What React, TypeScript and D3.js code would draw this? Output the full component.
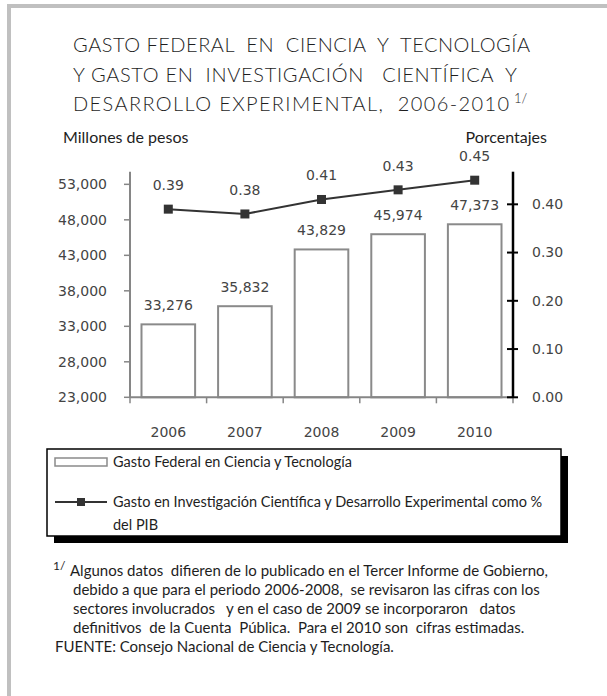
import React from "react";
import * as d3 from "d3";

const categories = ["2006", "2007", "2008", "2009", "2010"];
const gastoFederal = [33276, 35832, 43829, 45974, 47373];
const gideVals = [0.39, 0.38, 0.41, 0.43, 0.45];
const leftTicks = [23000, 28000, 33000, 38000, 43000, 48000, 53000];
const rightTicks = [0, 0.1, 0.2, 0.3, 0.4];

const titleLines = [
  "GASTO FEDERAL  EN  CIENCIA  Y  TECNOLOGÍA",
  "Y GASTO EN  INVESTIGACIÓN   CIENTÍFICA  Y",
  "DESARROLLO EXPERIMENTAL,  2006-2010",
];
const legendLabels = [
  "Gasto Federal en Ciencia y Tecnología",
  "Gasto en Investigación Científica y Desarrollo Experimental como %",
  "del PIB",
];
const footnoteLines = [
  "Algunos datos  difieren de lo publicado en el Tercer Informe de Gobierno,",
  "debido a que para el periodo 2006-2008,  se revisaron las cifras con los",
  "sectores involucrados   y en el caso de 2009 se incorporaron   datos",
  "definitivos  de la Cuenta  Pública.  Para el 2010 son  cifras estimadas.",
];
const sourceLine = "FUENTE: Consejo Nacional de Ciencia y Tecnología.";

const W = 607;
const H = 696;
const TXT = "Lato, 'Open Sans', sans-serif";
const NUM = "'DejaVu Sans', Verdana, sans-serif";

export default function App() {
  const left = 130;
  const right = 513;
  const bottom = 397.3;
  const top = 171.7;

  const x = d3
    .scaleBand<string>()
    .domain(categories)
    .range([left, right])
    .paddingInner(0.3)
    .paddingOuter(0.15);
  const yL = d3.scaleLinear().domain([23000, 54780]).range([bottom, top]);
  const yR = d3.scaleLinear().domain([0, 0.4676]).range([bottom, top]);
  const fmt = d3.format(",");
  const fmt2 = d3.format(".2f");
  const cxOf = (c: string) => (x(c) as number) + x.bandwidth() / 2;

  const line = d3
    .line<number>()
    .x((_, i) => cxOf(categories[i]))
    .y((d) => yR(d));

  const catBounds = d3.range(categories.length + 1).map((i) => left + (i * (right - left)) / categories.length);

  const textColor = "#1e1e1e";
  const numColor = "#444";
  const fnY0 = 576;
  const fnStep = 19;

  return (
    <div style={{ position: "absolute", left: 0, top: 0 }}>
      <svg width={W} height={H} style={{ display: "block", background: "#fff" }}>
        {/* frame */}
        <rect x={7} y={4} width={W - 7} height={4} fill="#c0c0c0" />
        <rect x={7} y={4} width={4} height={H - 4} fill="#c0c0c0" />

        {/* title */}
        {titleLines.map((t, i) => (
          <text
            key={i}
            x={73}
            y={52.3 + i * 29.5}
            fontFamily={TXT}
            fontSize={20}
            fontWeight={300}
            fill={textColor}
            textLength={[457, 444, 436][i]}
            lengthAdjust="spacing"
            style={{ whiteSpace: "pre" }}
          >
            {t}
          </text>
        ))}
        <text x={514} y={103} fontFamily={TXT} fontSize={13} fontWeight={300} fill={textColor}>
          1/
        </text>

        <text x={63} y={143} fontFamily={TXT} fontSize={16} fill={textColor}>
          Millones de pesos
        </text>
        <text x={547} y={143} fontFamily={TXT} fontSize={16} fill={textColor} textAnchor="end">
          Porcentajes
        </text>

        {/* bars */}
        {gastoFederal.map((v, i) => (
          <rect
            key={i}
            x={x(categories[i])}
            y={yL(v)}
            width={x.bandwidth()}
            height={bottom - yL(v)}
            fill="#fff"
            stroke="#8a8a8a"
            strokeWidth={2}
          />
        ))}
        {gastoFederal.map((v, i) => (
          <text
            key={i}
            x={cxOf(categories[i])}
            y={yL(v) - 14}
            fontFamily={NUM}
            fontSize={14}
            fill={numColor}
            textAnchor="middle"
          >
            {fmt(v)}
          </text>
        ))}

        {/* left axis */}
        <line x1={left} x2={left} y1={top} y2={bottom} stroke="#868686" strokeWidth={2} />
        {leftTicks.map((t) => (
          <g key={t}>
            <line x1={left - 6} x2={left} y1={yL(t)} y2={yL(t)} stroke="#868686" strokeWidth={1.5} />
            <text
              x={107}
              y={yL(t)}
              dy="0.35em"
              fontFamily={NUM}
              fontSize={14}
              fill={numColor}
              textAnchor="end"
            >
              {fmt(t)}
            </text>
          </g>
        ))}

        {/* bottom axis */}
        <line x1={left} x2={right} y1={bottom} y2={bottom} stroke="#868686" strokeWidth={2} />
        {catBounds.map((b, i) => (
          <line key={i} x1={b} x2={b} y1={bottom} y2={bottom + 6} stroke="#868686" strokeWidth={1.5} />
        ))}
        {categories.map((c) => (
          <text key={c} x={cxOf(c)} y={437} fontFamily={NUM} fontSize={14} fill={numColor} textAnchor="middle">
            {c}
          </text>
        ))}

        {/* right axis */}
        <line x1={right} x2={right} y1={top} y2={bottom} stroke="#000" strokeWidth={2.5} />
        {rightTicks.map((t) => (
          <g key={t}>
            <line x1={right - 6} x2={right + 5} y1={yR(t)} y2={yR(t)} stroke="#000" strokeWidth={2} />
            <text x={532} y={yR(t)} dy="0.35em" fontFamily={NUM} fontSize={14} fill={numColor}>
              {fmt2(t)}
            </text>
          </g>
        ))}

        {/* line series */}
        <path d={line(gideVals) || ""} fill="none" stroke="#333" strokeWidth={2} />
        {gideVals.map((v, i) => {
          const cx = cxOf(categories[i]);
          return (
            <g key={i}>
              <rect x={cx - 4.5} y={yR(v) - 4.5} width={9} height={9} fill="#333" />
              <text x={cx} y={yR(v) - 19} fontFamily={NUM} fontSize={14} fill={numColor} textAnchor="middle">
                {fmt2(v)}
              </text>
            </g>
          );
        })}

        {/* legend */}
        <rect x={54} y={456} width={514} height={87} fill="#000" />
        <rect x={47} y={449} width={514} height={87} fill="#fff" stroke="#000" strokeWidth={1.5} />
        <rect x={55} y={458} width={52} height={8} fill="#fff" stroke="#8a8a8a" strokeWidth={1.5} />
        <text x={113} y={467} fontFamily={TXT} fontSize={14.5} fill={textColor}>
          {legendLabels[0]}
        </text>
        <line x1={55} x2={107} y1={502} y2={502} stroke="#333" strokeWidth={2} />
        <rect x={77} y={498} width={8} height={8} fill="#333" />
        <text x={113} y={507} fontFamily={TXT} fontSize={14.5} fill={textColor}>
          {legendLabels[1]}
        </text>
        <text x={113} y={530} fontFamily={TXT} fontSize={14.5} fill={textColor}>
          {legendLabels[2]}
        </text>

        {/* footnote */}
        <text x={53} y={fnY0 - 6} fontFamily={TXT} fontSize={12} fill={textColor}>
          1/
        </text>
        {footnoteLines.map((t, i) => (
          <text
            key={i}
            x={i === 0 ? 70 : 73}
            y={fnY0 + i * fnStep}
            fontFamily={TXT}
            fontSize={15}
            fill={textColor}
            style={{ whiteSpace: "pre" }}
          >
            {t}
          </text>
        ))}
        <text x={55} y={fnY0 + 4 * fnStep} fontFamily={TXT} fontSize={15} fill={textColor}>
          {sourceLine}
        </text>
      </svg>
    </div>
  );
}
